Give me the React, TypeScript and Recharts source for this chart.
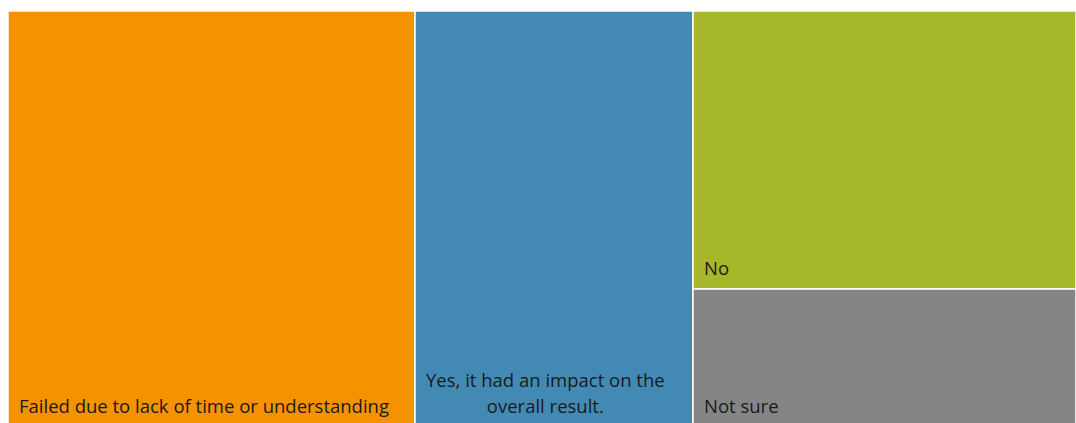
import React from 'react';
import { Treemap } from 'recharts';

// answers (share of respondents, read from the block areas)
const LABELS = [
  'Failed due to lack of time or understanding',
  'Yes, it had an impact on the overall result.',
  'No',
  'Not sure',
];
const VALUES = [38.1, 26.0, 24.0, 11.9];

const COLORS: Record<string, string> = {
  'Failed due to lack of time or understanding': '#f59200',
  'Yes, it had an impact on the overall result.': '#428ab3',
  No: '#a6b82a',
  'Not sure': '#858585',
};

const FONT = '"Open Sans", sans-serif';
const FONT_SIZE = 18.5;
const LINE_H = 26;
const PAD = 11;
const BOTTOM = 14;

const data = LABELS.map((name, i) => ({ name, value: VALUES[i] }));

let ctx: CanvasRenderingContext2D | null = null;
function textWidth(s: string) {
  if (!ctx) ctx = document.createElement('canvas').getContext('2d');
  if (!ctx) return s.length * FONT_SIZE * 0.5;
  ctx.font = `${FONT_SIZE}px ${FONT}`;
  return ctx.measureText(s).width;
}

function wrap(text: string, maxW: number) {
  const words = text.split(' ');
  const lines: string[] = [];
  let cur = '';
  words.forEach((w) => {
    const next = cur ? `${cur} ${w}` : w;
    if (cur && textWidth(next) > maxW) {
      lines.push(cur);
      cur = w;
    } else {
      cur = next;
    }
  });
  if (cur) lines.push(cur);
  return lines;
}

function Cell(props: any) {
  const { x, y, width, height, name, depth } = props;
  if (depth !== 1) return null;
  const lines = wrap(name, width - PAD * 2);
  const blockW = Math.max(...lines.map(textWidth));
  return (
    <g>
      <rect
        x={x}
        y={y}
        width={width}
        height={height}
        fill={COLORS[name]}
        stroke="#ffffff"
        strokeWidth={1.5}
      />
      {lines.map((line, i) => (
        <text
          key={i}
          x={x + PAD + blockW / 2}
          y={y + height - BOTTOM - (lines.length - 1 - i) * LINE_H}
          textAnchor="middle"
          fill="#1a1a1a"
          stroke="none"
          fontFamily={FONT}
          fontSize={FONT_SIZE}
        >
          {line}
        </text>
      ))}
    </g>
  );
}

export default function App() {
  return (
    <>
      <style>{'body{margin:0;overflow:hidden}'}</style>
      <div style={{ position: 'absolute', left: 8, top: 11 }}>
        <Treemap
          width={1068}
          height={416}
          data={data}
          dataKey="value"
          nameKey="name"
          aspectRatio={1}
          stroke="#fff"
          content={<Cell />}
          isAnimationActive={false}
        />
      </div>
    </>
  );
}
